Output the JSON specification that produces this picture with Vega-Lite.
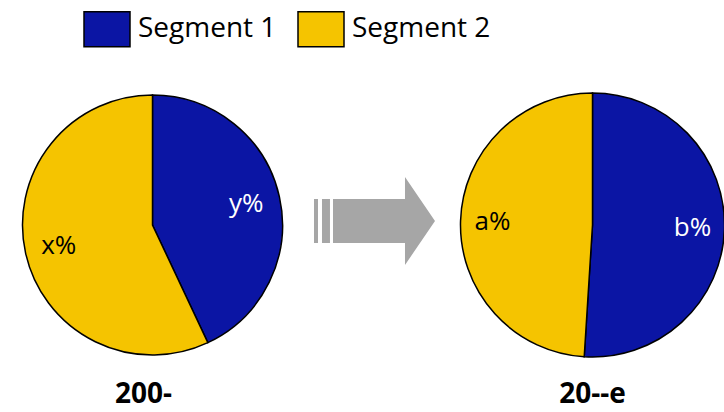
{
  "$schema": "https://vega.github.io/schema/vega-lite/v6.json",
  "background": "white",
  "padding": {"top": 5, "left": 0, "right": 0, "bottom": 3},
  "datasets": {
    "shares": [
      {"period": "200-", "segment": "Segment 1", "share": 43, "label": "y%"},
      {"period": "200-", "segment": "Segment 2", "share": 57, "label": "x%"},
      {"period": "20--e", "segment": "Segment 1", "share": 51, "label": "b%"},
      {"period": "20--e", "segment": "Segment 2", "share": 49, "label": "a%"}
    ],
    "transition": [{"from": "200-", "to": "20--e"}]
  },
  "spacing": 0,
  "hconcat": [
    {
      "width": 305,
      "height": 282,
      "data": {"name": "shares"},
      "transform": [{"filter": "datum.period === '200-'"}],
      "title": {"text": "200-", "orient": "bottom", "dx": -9},
      "encoding": {
        "theta": {"field": "share", "type": "quantitative", "stack": true},
        "order": {"field": "segment", "type": "nominal", "sort": "ascending"}
      },
      "layer": [
        {
          "mark": {"type": "arc", "outerRadius": 130, "stroke": "black", "strokeWidth": 1.5},
          "encoding": {
            "color": {
              "field": "segment",
              "type": "nominal",
              "scale": {"domain": ["Segment 1", "Segment 2"], "range": ["#0B15A4", "#F5C400"]},
              "legend": {
                "orient": "none",
                "legendX": 83,
                "legendY": -79,
                "direction": "horizontal",
                "title": null,
                "symbolType": "M-1,-0.76H1V0.76H-1Z",
                "symbolSize": 2116,
                "labelFont": "Open Sans",
                "labelFontSize": 28,
                "labelColor": "black",
                "labelOffset": 7,
                "columnPadding": 18,
                "encode": {
                  "symbols": {"update": {"stroke": {"value": "black"}, "strokeWidth": {"value": 1.5}, "opacity": {"value": 1}}}
                }
              }
            }
          }
        },
        {
          "mark": {"type": "text", "radius": 96, "font": "Open Sans", "fontSize": 26},
          "encoding": {
            "text": {"field": "label", "type": "nominal"},
            "color": {"condition": {"test": "datum.segment === 'Segment 1'", "value": "white"}, "value": "black"}
          }
        }
      ]
    },
    {
      "width": 152,
      "height": 282,
      "data": {"name": "transition"},
      "mark": {
        "type": "point",
        "shape": "M-1,-0.364H-0.934V0.364H-1Z M-0.868,-0.364H-0.736V0.364H-0.868Z M-0.686,-0.364H0.504V-0.727L1,0L0.504,0.727V0.364H-0.686Z",
        "size": 14641,
        "filled": true,
        "color": "#A6A6A6",
        "opacity": 1,
        "strokeWidth": 0,
        "xOffset": -6.5,
        "yOffset": -4
      },
      "encoding": {}
    },
    {
      "width": 267,
      "height": 282,
      "data": {"name": "shares"},
      "transform": [{"filter": "datum.period === '20--e'"}],
      "title": {"text": "20--e", "orient": "bottom"},
      "encoding": {
        "theta": {"field": "share", "type": "quantitative", "stack": true},
        "order": {"field": "segment", "type": "nominal", "sort": "ascending"}
      },
      "layer": [
        {
          "mark": {"type": "arc", "outerRadius": 132, "stroke": "black", "strokeWidth": 1.5},
          "encoding": {
            "color": {
              "field": "segment",
              "type": "nominal",
              "scale": {"domain": ["Segment 1", "Segment 2"], "range": ["#0B15A4", "#F5C400"]},
              "legend": {
                "orient": "none",
                "legendX": 83,
                "legendY": -79,
                "direction": "horizontal",
                "title": null,
                "symbolType": "M-1,-0.76H1V0.76H-1Z",
                "symbolSize": 2116,
                "labelFont": "Open Sans",
                "labelFontSize": 28,
                "labelColor": "black",
                "labelOffset": 7,
                "columnPadding": 18,
                "encode": {
                  "symbols": {"update": {"stroke": {"value": "black"}, "strokeWidth": {"value": 1.5}, "opacity": {"value": 1}}}
                }
              }
            }
          }
        },
        {
          "mark": {"type": "text", "radius": 100, "font": "Open Sans", "fontSize": 26},
          "encoding": {
            "text": {"field": "label", "type": "nominal"},
            "color": {"condition": {"test": "datum.segment === 'Segment 1'", "value": "white"}, "value": "black"}
          }
        }
      ]
    }
  ],
  "resolve": {"scale": {"color": "shared"}, "legend": {"color": "shared"}},
  "config": {
    "view": {"stroke": null},
    "title": {"font": "Open Sans", "fontSize": 28, "fontWeight": "bold", "color": "black", "offset": 15}
  }
}
